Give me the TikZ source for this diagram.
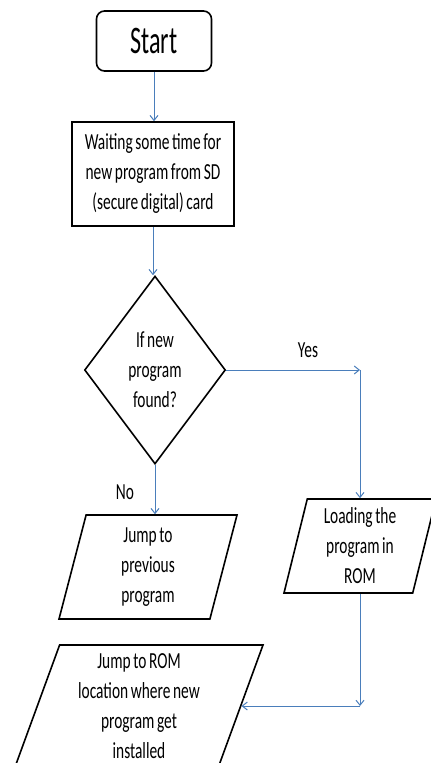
\documentclass[tikz,border=0pt]{standalone}
\usepackage{fontspec}
\setmainfont{Carlito}[FakeStretch=0.67,WordSpace=0.75]
\newfontfamily\startfont{Carlito}[FakeStretch=0.62]
\usetikzlibrary{shapes.geometric,arrows.meta}
\definecolor{flowblue}{RGB}{74,126,187}
\begin{document}
\begin{tikzpicture}[x=1pt,y=-1pt,
  box/.style={draw=black,line width=1.6pt,align=center,inner sep=0pt,font=\fontsize{23}{30}\selectfont},
  termbox/.style={box,rectangle,rounded corners=8pt,font=\startfont\fontsize{39}{44}\selectfont},
  procbox/.style={box,rectangle},
  decbox/.style={box,diamond,aspect=0.75},
  iobox/.style={box,trapezium,trapezium stretches body},
  flow/.style={draw=flowblue,line width=1pt,-{Straight Barb[length=5pt,width=8pt]}},
  lbl/.style={font=\fontsize{23}{30}\selectfont}
]
\useasboundingbox (0,0) rectangle (431,763);
\clip (0,0) rectangle (431,763);

\node[termbox, minimum width=115pt, minimum height=60pt] (start) at (154,41) {Start};
\node[procbox, minimum width=162pt, minimum height=104pt] (wait) at (153,174) {Waiting some time for\\new program from SD\\(secure digital) card};
\node[decbox, minimum width=141pt, minimum height=188pt] (dec) at (155,370) {If new\\program\\found?};
\node[iobox, trapezium left angle=71, trapezium right angle=109, minimum width=178pt, minimum height=104pt] (prev) at (148,567) {Jump to\\previous\\program};
\node[iobox, trapezium left angle=73, trapezium right angle=107, minimum width=152pt, minimum height=94pt] (load) at (360,546) {Loading the\\program in\\ROM};
\node[iobox, trapezium left angle=67, trapezium right angle=113, minimum width=248pt, minimum height=122pt] (final) at (139,706) {Jump to ROM\\location where new\\program get\\installed};

\node[lbl] (yes) at (308,350) {Yes};
\node[lbl] (no) at (125,492) {No};

\coordinate (yesC) at (load.north |- dec.east);
\coordinate (loadC) at (load.south |- final.east);
\draw[flow] (start.south) -- (start.south |- wait.north);
\draw[flow] (wait.south) -- (wait.south |- dec.north);
\draw[flow] (dec.east) -- (yesC);
\draw[flow] (yesC) -- (load.north);
\draw[flow] (dec.south) -- (dec.south |- prev.north);
\draw[flow] (load.south) -- (loadC);
\draw[flow] (loadC) -- (final.east);
\end{tikzpicture}
\end{document}
